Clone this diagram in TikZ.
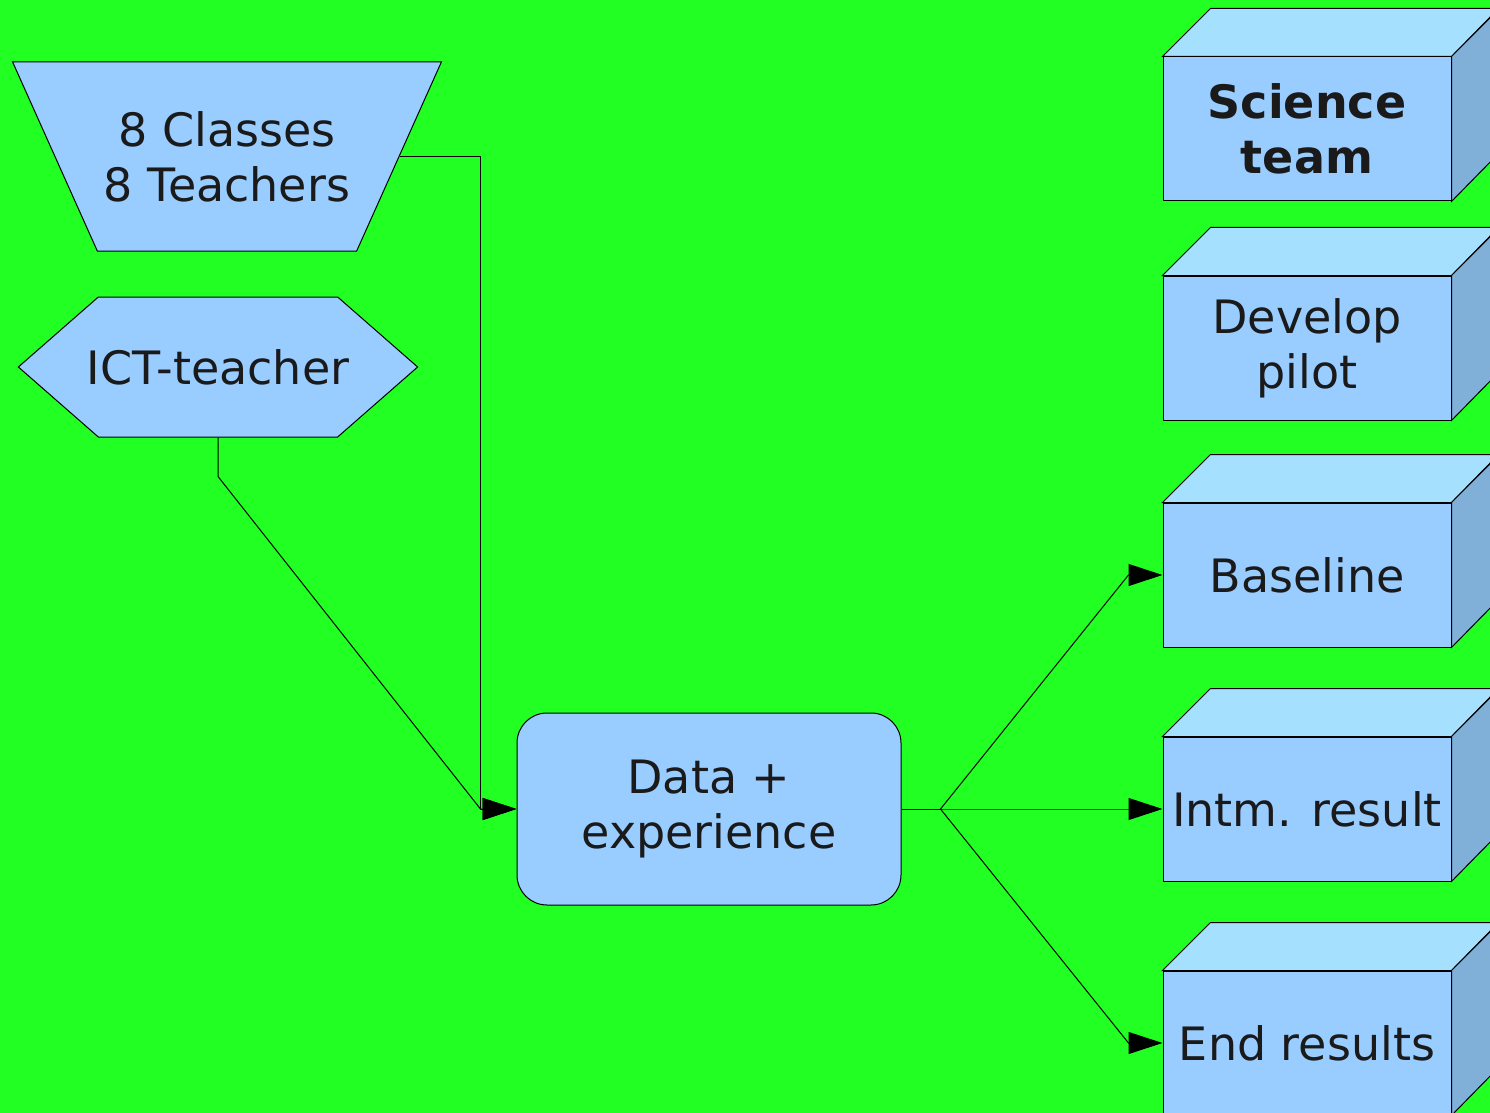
\documentclass[tikz,border=0pt]{standalone}
\usepackage{fontspec}
\setmainfont{DejaVu Sans}
\usetikzlibrary{shapes.geometric, shapes.symbols, arrows.meta}
\definecolor{bggreen}{RGB}{34,255,34}
\definecolor{boxblue}{RGB}{153,204,255}
\definecolor{topblue}{RGB}{166,224,255}
\definecolor{sideblue}{RGB}{128,176,216}
\definecolor{ink}{RGB}{26,26,26}

\begin{document}
\begin{tikzpicture}[x = 0.5pt, y = -0.5pt,
  shp/.style = {draw, fill = boxblue, line width = 0.5pt, text = ink, font = \fontsize{23}{27.5}\selectfont, align = center, inner sep = 0pt},
  cube/.style = {shp, minimum width = 144pt, minimum height = 72pt},
  arr/.style = {line width = 0.5pt, -{Triangle[length = 17pt, width = 11pt]}}]

\useasboundingbox (0, 0) rectangle (1490, 1113);
\clip (0, 0) rectangle (1490, 1113);
\fill [bggreen] (0, 0) rectangle (1490, 1113);

% sources
\node [shp, trapezium, trapezium left angle = 48.4, trapezium right angle = 48.4, trapezium stretches = true, shape border rotate = 180, minimum width = 215pt, minimum height = 94.5pt] (classes) at (227, 156.5) {8 Classes\\8 Teachers};
\node [shp, signal, signal to = west and east, signal pointer angle = 82.4, inner xsep = -5.75pt, minimum height = 70pt] (ict) at (218, 367) {ICT-teacher};
\node [shp, rounded corners = 15pt, minimum width = 192pt, minimum height = 96pt] (data) at (709, 809) {Data +\\experience};

% cubes
\node [cube, font = \fontsize{23}{27.5}\selectfont\bfseries] (science) at (1307, 129) {Science\\team};
\node [cube] (develop) at (1307, 348) {Develop\\pilot};
\node [cube] (baseline) at (1307, 575) {Baseline};
\node [cube] (intm) at (1307, 809) {Intm. result};
\node [cube] (endres) at (1307, 1043) {End results};
\foreach \c in {science, develop, baseline, intm, endres} {
  \draw [fill = topblue, line width = 0.5pt] (\c.north west) -- ++(48, -48) -- ++(288, 0) -- (\c.north east) -- cycle;
  \draw [fill = sideblue, line width = 0.5pt] (\c.north east) -- ++(48, -48) -- ++(0, 144) -- (\c.south east) -- cycle;
}

% connectors
\coordinate (join) at ([xshift = -18pt] data.west);
\draw [arr] (classes.east) -| (join) -- (data.west);
\draw [arr] (ict.south) -- ++(0, 39) -- (join) -- (data.west);
\draw [line width = 0.5pt] (data.east) -- ++(39, 0) coordinate (fork);
\foreach \c in {baseline, intm, endres}
  \draw [arr] (fork) -- ([xshift = -17pt] \c.west) -- (\c.west);

\end{tikzpicture}
\end{document}
